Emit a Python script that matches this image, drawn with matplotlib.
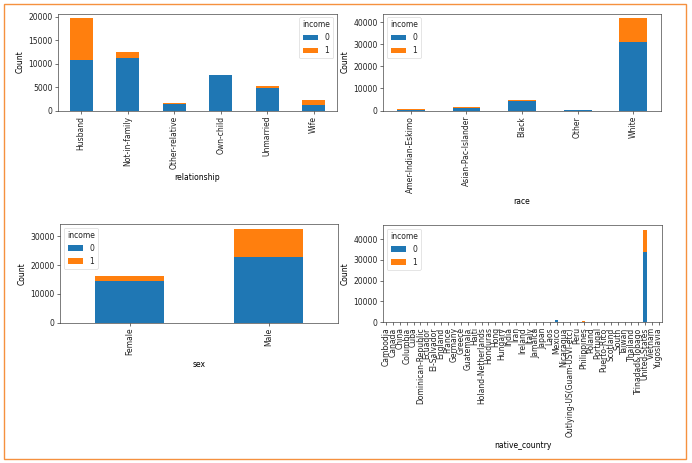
import matplotlib
matplotlib.use("Agg")
import matplotlib.pyplot as plt
import numpy as np
from matplotlib.patches import Rectangle

relationship = ["Husband", "Not-in-family", "Other-relative", "Own-child", "Unmarried", "Wife"]
rel_0 = [10870, 11307, 1454, 7470, 4816, 1238]
rel_1 = [8846, 1276, 52, 111, 309, 1093]

race = ["Amer-Indian-Eskimo", "Asian-Pac-Islander", "Black", "Other", "White"]
race_0 = [415, 1110, 4119, 356, 31155]
race_1 = [55, 409, 566, 50, 10607]

sex = ["Female", "Male"]
sex_0 = [14423, 22732]
sex_1 = [1769, 9918]

countries = ["Cambodia", "Canada", "China", "Columbia", "Cuba", "Dominican-Republic",
             "Ecuador", "El-Salvador", "England", "France", "Germany", "Greece",
             "Guatemala", "Haiti", "Holand-Netherlands", "Honduras", "Hong", "Hungary",
             "India", "Iran", "Ireland", "Italy", "Jamaica", "Japan", "Laos", "Mexico",
             "Nicaragua", "Outlying-US(Guam-USVI-etc)", "Peru", "Philippines", "Poland",
             "Portugal", "Puerto-Rico", "Scotland", "South", "Taiwan", "Thailand",
             "Trinadad&Tobago", "United-States", "Vietnam", "Yugoslavia"]
country_0 = [19, 119, 86, 81, 104, 98, 40, 144, 80, 22, 142, 34, 85, 66, 1, 18, 22, 13,
             89, 37, 26, 69, 88, 60, 21, 904, 46, 23, 42, 188, 71, 54, 155, 17, 92, 39, 25,
             25, 33773, 81, 15]
country_1 = [9, 63, 36, 4, 34, 5, 5, 11, 47, 16, 64, 15, 3, 9, 0, 2, 8, 6, 62, 22, 11, 36,
             18, 32, 2, 47, 3, 0, 4, 107, 16, 13, 29, 4, 23, 26, 5, 2, 10916, 5, 8]

FS = 5.5
plt.rcParams.update({
    "font.family": "DejaVu Sans",
    "font.size": FS,
    "axes.linewidth": 0.45,
    "xtick.major.width": 0.45,
    "ytick.major.width": 0.45,
    "xtick.major.size": 2.0,
    "ytick.major.size": 2.0,
    "xtick.major.pad": 1.8,
    "ytick.major.pad": 1.8,
    "axes.labelpad": 3.0,
    "axes.edgecolor": "#333333",
    "text.color": "#222222",
    "xtick.color": "#222222",
    "ytick.color": "#222222",
})

W, H = 692, 463
fig = plt.figure(figsize=(W / 100, H / 100), dpi=100)

def add_ax(l, r, t, b):
    return fig.add_axes([l / W, 1 - b / H, (r - l) / W, (b - t) / H])

def stacked(ax, cats, v0, v1, xlabel, loc):
    x = np.arange(len(cats))
    ax.bar(x, v0, width=0.5, color="#1f77b4", label="0")
    ax.bar(x, v1, width=0.5, bottom=v0, color="#ff7f0e", label="1")
    ax.set_xticks(x)
    ax.set_xticklabels(cats, rotation=90)
    ax.set_xlim(-0.5, len(cats) - 0.5)
    ax.set_xlabel(xlabel)
    ax.set_ylabel("Count")
    leg = ax.legend(title="income", loc=loc, fontsize=FS, title_fontsize=FS,
                    handlelength=2.0, handleheight=0.7, borderpad=0.4,
                    labelspacing=0.5, framealpha=0.8, edgecolor="#cccccc")
    leg.get_frame().set_linewidth(0.45)

ax1 = add_ax(58, 337, 13.5, 110.5)
stacked(ax1, relationship, rel_0, rel_1, "relationship", "upper right")

ax2 = add_ax(383, 661, 13.5, 110.5)
stacked(ax2, race, race_0, race_1, "race", "upper left")

ax3 = add_ax(60, 338, 224, 322.5)
stacked(ax3, sex, sex_0, sex_1, "sex", "upper left")

ax4 = add_ax(383, 662, 225, 322)
stacked(ax4, countries, country_0, country_1, "native_country", "upper left")

# orange frame around the output
fig.patches.append(Rectangle((4 / W, 1 - 458.5 / H), 681.5 / W, 454.5 / H,
                             transform=fig.transFigure, fill=False,
                             edgecolor="#f5913f", linewidth=1.0))

fig.savefig("out.png", dpi=100)
